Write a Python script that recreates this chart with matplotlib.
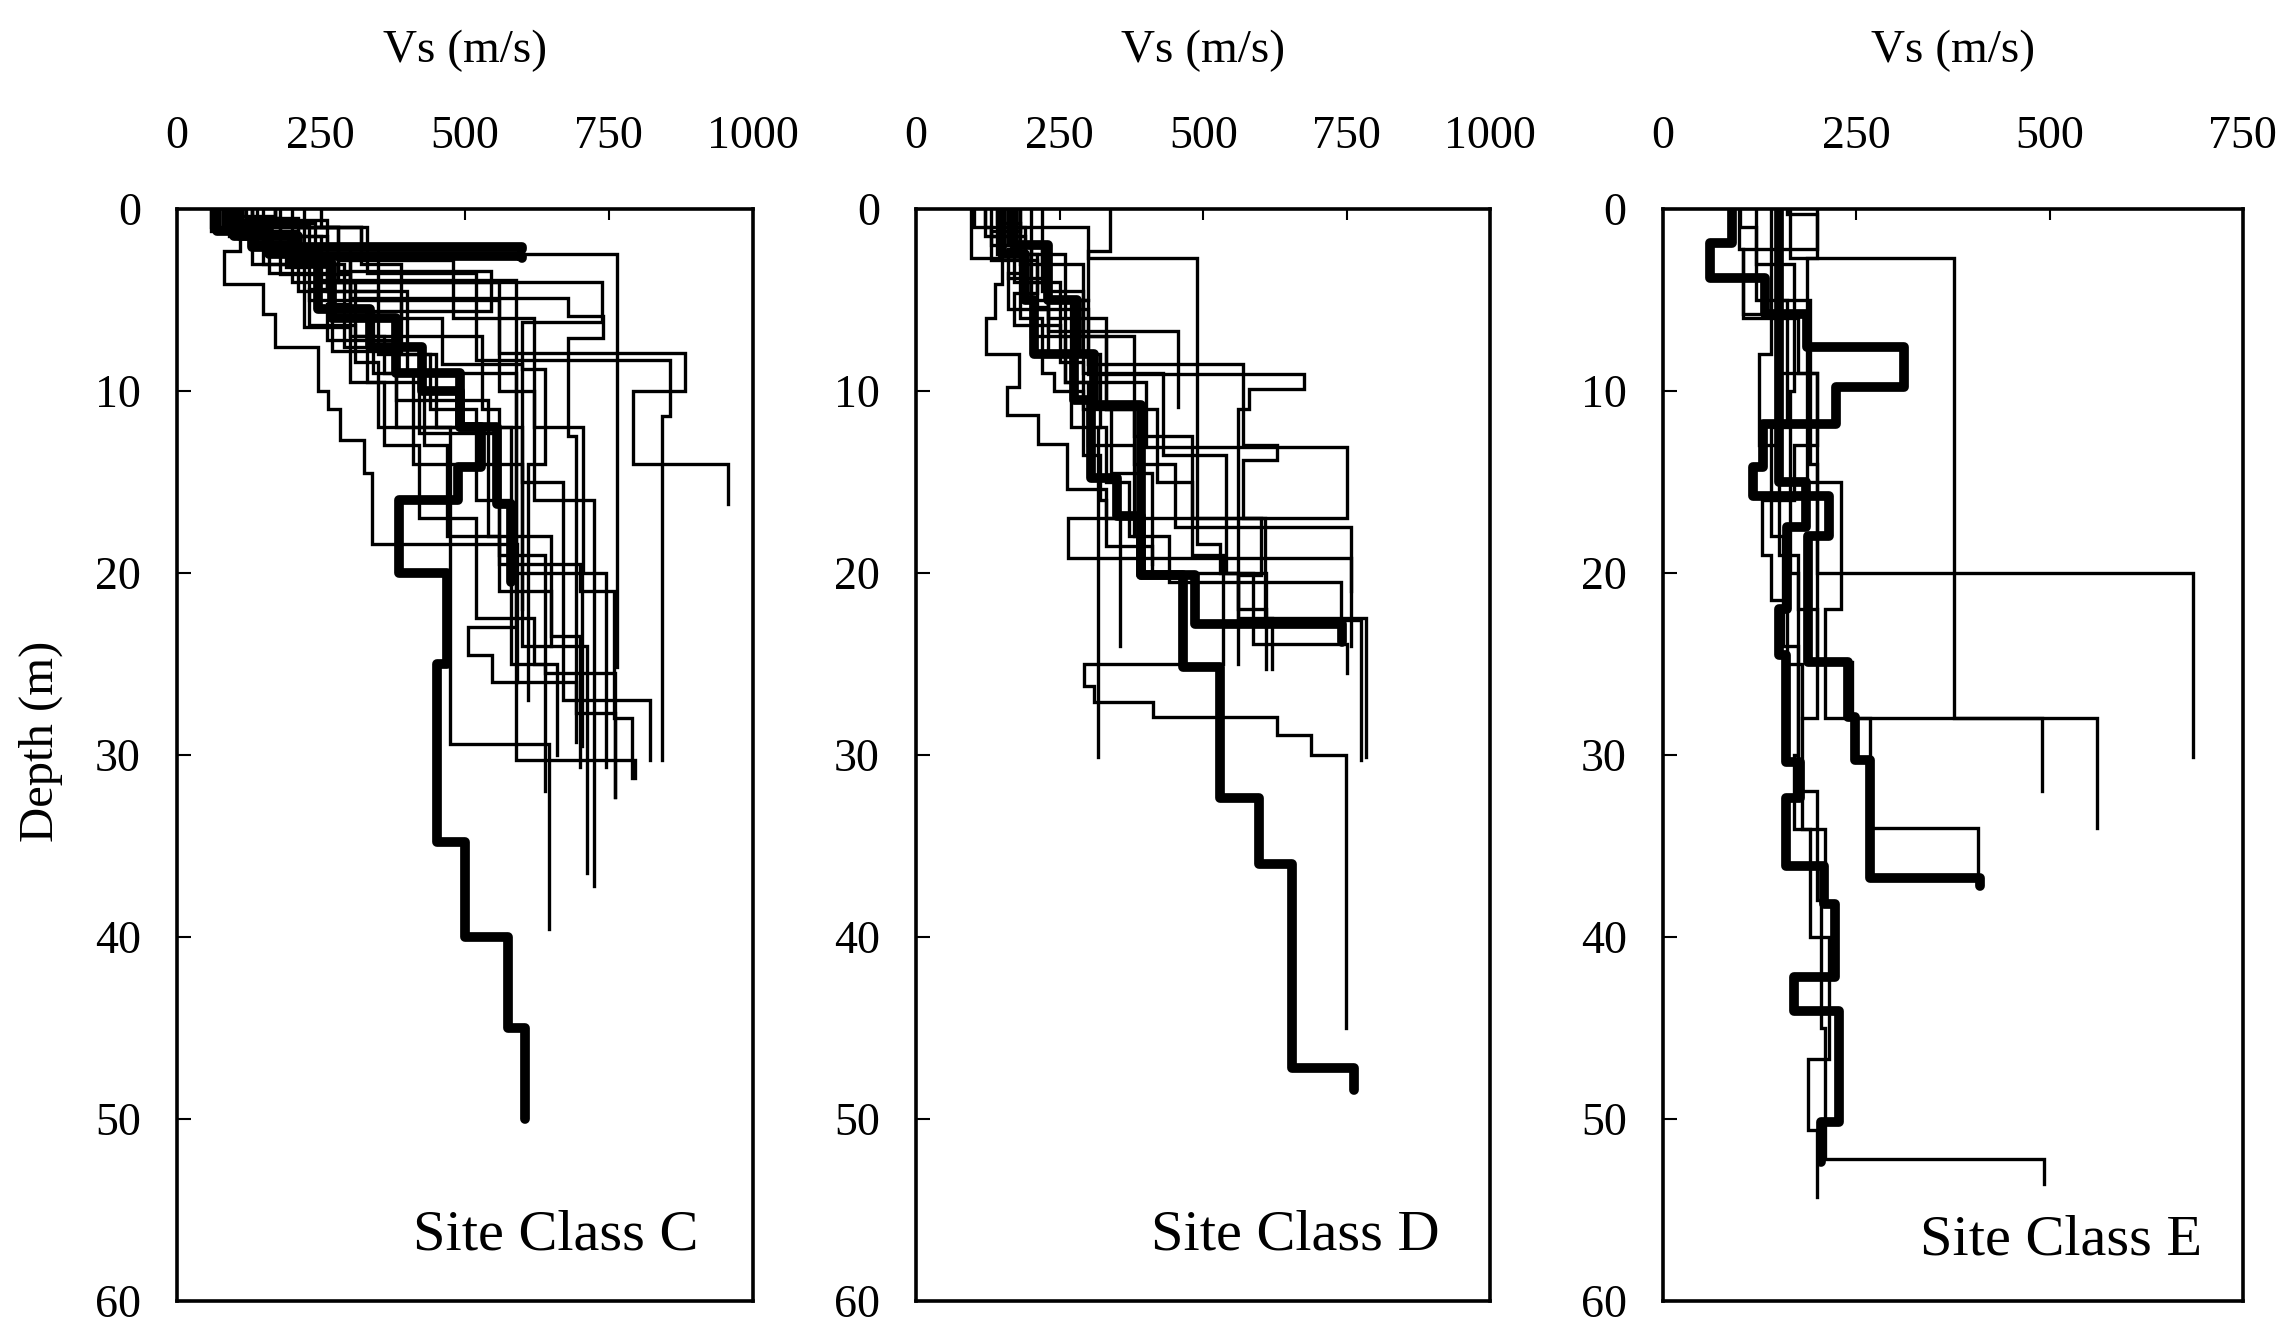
import numpy as np
import matplotlib
matplotlib.use("Agg")
import matplotlib.pyplot as plt

plt.rcParams["font.family"] = ["Liberation Serif", "DejaVu Serif"]

# Each profile: bottom depth of every layer (m) and the layer Vs (m/s)
C_THIN_DEPTH = [
    [1.0, 2.5, 25.2],
    [1.5, 4.0, 7.9, 10.0, 14.0, 16.2],
    [1.0, 3.5, 8.3, 11.4, 30.3],
    [2.0, 4.9, 5.9, 7.1, 12.5, 29.3],
    [0.8, 3.9, 30.3, 31.3],
    [1.2, 3.5, 7.8, 12.0, 29.4, 39.6],
    [1.5, 4.5, 9.0, 23.0, 24.5, 26.0, 27.7, 32.3],
    [2.0, 5.0, 10.0, 16.0, 37.2],
    [1.0, 2.8, 6.0, 12.0, 20.0, 30.7],
    [1.2, 2.3, 4.1, 5.8, 7.6, 10.0, 11.0, 12.7, 14.5, 18.4, 26.0],
    [0.5, 1.5, 3.0, 7.6, 9.5, 12.3, 19.0, 25.5, 32.3],
    [1.0, 3.0, 6.0, 8.5, 15.0, 27.0, 30.3],
    [1.5, 4.0, 7.0, 11.0, 19.5, 21.0, 28.0, 31.3],
    [0.6, 2.0, 4.5, 8.0, 11.0, 16.0, 25.0, 32.0],
    [1.0, 3.0, 6.5, 9.5, 13.0, 17.0, 22.5, 25.0, 30.0],
    [1.0, 3.4, 5.6, 9.0, 13.0, 18.0, 21.0, 23.5, 30.7],
    [0.7, 2.0, 5.0, 8.0, 12.0, 24.0, 36.5],
    [0.5, 2.2, 4.0, 6.2, 8.8, 14.0, 20.0, 29.5],
    [0.6, 1.8, 3.2, 5.0, 7.0, 9.0, 14.0, 22.0],
    [0.4, 1.2, 2.6, 4.4, 6.4, 8.4, 12.0, 20.0, 27.0],
    [0.9, 2.0, 3.6, 5.2, 7.2, 10.5, 18.0, 24.0],
]
C_THIN_VS = [
    [150, 320, 765],
    [110, 250, 560, 883, 792, 957],
    [200, 330, 520, 856, 843],
    [180, 300, 680, 741, 680, 694],
    [90, 240, 589, 795],
    [60, 160, 270, 380, 474, 647],
    [130, 260, 400, 589, 505, 548, 694, 761],
    [220, 350, 560, 620, 724],
    [170, 280, 480, 620, 705, 745],
    [80, 110, 82, 150, 170, 245, 262, 283, 325, 339, 590],
    [120, 180, 130, 290, 330, 420, 560, 640, 761],
    [250, 320, 390, 460, 600, 670, 822],
    [90, 200, 310, 530, 560, 700, 760, 790],
    [140, 260, 210, 350, 440, 520, 580, 640],
    [60, 150, 220, 300, 360, 420, 520, 620, 660],
    [170, 280, 545, 340, 430, 470, 560, 650, 700],
    [100, 200, 300, 390, 450, 600, 713],
    [130, 210, 280, 738, 600, 640, 610, 703],
    [100, 140, 190, 230, 300, 360, 410, 600],
    [170, 110, 210, 260, 230, 310, 350, 580, 610],
    [130, 230, 180, 300, 260, 380, 540, 650],
]
C_THICK_DEPTH = [
    [1.0, 2.5, 5.5, 7.6, 10.0, 12.0, 14.2, 16.0, 20.0, 25.0, 34.8, 40.0, 45.0, 50.0],
    [1.5, 3.0, 6.0, 9.0, 12.0, 16.2, 20.5],
    [1.2, 2.1, 2.2],
    [1.5, 2.6, 2.7],
]
C_THICK_VS = [
    [90, 160, 245, 335, 425, 491, 528, 488, 386, 470, 452, 500, 575, 605],
    [110, 200, 270, 380, 491, 556, 580],
    [70, 130, 600],
    [100, 210, 600],
]

D_THIN_DEPTH = [
    [1.0, 2.7, 18.4, 20.0, 25.3],
    [2.3, 5.0, 8.0, 12.0, 30.1],
    [1.5, 4.0, 6.7, 10.9],
    [2.0, 5.0, 9.1, 9.9, 11.0, 22.5, 25.3],
    [3.0, 6.0, 9.5, 13.1, 17.0, 19.2, 21.0],
    [2.5, 6.0, 11.0, 14.0, 17.5, 24.0],
    [3.0, 7.0, 12.5, 17.0, 22.5, 30.1],
    [2.0, 4.5, 9.0, 13.5, 20.0, 23.9, 25.5],
    [1.5, 4.0, 7.0, 11.0, 15.0, 19.0, 25.0, 26.2, 27.1, 27.9, 28.9, 30.0, 45.0],
    [2.5, 5.5, 8.5, 13.0, 13.8, 17.0, 20.1, 25.0],
    [2.7, 4.1, 6.0, 8.0, 9.8, 11.3, 12.9, 15.4, 17.0, 24.0],
    [1.0, 2.0, 6.0, 9.0, 10.0, 13.5, 16.0, 18.5, 20.0, 22.0, 23.0],
    [1.0, 3.5, 5.5, 8.0, 12.0, 15.0, 18.0, 20.5, 22.6, 30.3],
    [0.8, 2.2, 3.8, 5.4, 7.0, 9.5, 13.0, 18.0],
    [1.2, 2.8, 4.6, 6.4, 8.4, 11.0, 14.5, 19.5],
]
D_THIN_VS = [
    [160, 300, 490, 530, 610],
    [337, 300, 270, 320, 317],
    [130, 170, 230, 456],
    [160, 200, 300, 675, 579, 560, 620],
    [180, 230, 260, 400, 750, 265, 757],
    [200, 260, 330, 380, 450, 757],
    [220, 290, 380, 480, 608, 783],
    [150, 220, 290, 430, 540, 587, 750],
    [120, 190, 250, 330, 420, 480, 535, 292, 310, 412, 629, 688, 748],
    [140, 210, 300, 570, 629, 570, 600, 560],
    [96, 150, 137, 121, 179, 158, 212, 262, 330, 355],
    [100, 130, 180, 220, 240, 290, 320, 330, 410, 560, 610],
    [120, 190, 160, 230, 270, 330, 370, 440, 740, 775],
    [140, 180, 160, 230, 200, 260, 300, 380],
    [180, 130, 210, 170, 250, 290, 340, 410],
]
D_THICK_DEPTH = [
    [2.5, 5.0, 8.0, 10.5, 14.8, 16.9, 20.1, 25.2, 32.4, 36.0, 47.2, 48.4],
    [2.0, 5.0, 8.0, 10.8, 20.1, 22.8, 23.8],
]
D_THICK_VS = [
    [150, 190, 205, 275, 305, 350, 392, 465, 530, 598, 655, 762],
    [170, 230, 280, 310, 392, 485, 742],
]

E_THIN_DEPTH = [
    [2.7, 28.0, 34.0],
    [2.2, 5.8, 9.0, 20.0, 30.1],
    [2.7, 15.0, 22.0, 28.0, 32.0],
    [3.0, 10.0, 20.0, 30.0, 34.1, 40.0, 46.7, 50.6, 54.3],
    [5.0, 12.0, 18.0, 24.0, 32.0, 38.0, 45.0, 52.2, 53.6],
    [5.0, 14.0, 24.9, 28.0, 34.0, 36.8],
    [0.3, 2.2, 6.0, 9.0, 13.0, 16.0, 19.0, 22.0, 28.0, 34.1, 36.0],
    [1.0, 3.0, 8.0, 13.0, 16.0, 19.0, 21.5, 25.0, 28.0],
]
E_THIN_VS = [
    [165, 376, 562],
    [98, 104, 150, 199, 686],
    [199, 187, 230, 210, 490],
    [140, 170, 165, 175, 170, 190, 215, 188, 200],
    [120, 160, 140, 155, 175, 200, 205, 210, 493],
    [150, 190, 200, 245, 268, 407],
    [160, 199, 104, 175, 200, 170, 150, 175, 200, 180, 210],
    [100, 120, 140, 125, 150, 128, 140, 160, 180],
]
E_THICK_DEPTH = [
    [15.0, 17.5, 22.0, 24.5, 30.4, 32.4, 36.1, 38.2, 42.2, 44.1, 50.2, 52.4],
    [1.9, 3.8, 5.8, 7.6, 9.8, 11.8, 14.2, 15.8, 18.0, 24.9, 27.9, 30.3, 36.8, 37.2],
]
E_THICK_VS = [
    [150, 185, 160, 150, 159, 178, 159, 208, 222, 170, 228, 205],
    [89, 61, 132, 187, 312, 224, 129, 116, 215, 188, 239, 248, 268, 410],
]

PANELS = [
    ("Site Class C", [0, 250, 500, 750, 1000], C_THIN_DEPTH, C_THIN_VS, C_THICK_DEPTH, C_THICK_VS),
    ("Site Class D", [0, 250, 500, 750, 1000], D_THIN_DEPTH, D_THIN_VS, D_THICK_DEPTH, D_THICK_VS),
    ("Site Class E", [0, 250, 500, 750], E_THIN_DEPTH, E_THIN_VS, E_THICK_DEPTH, E_THICK_VS),
]
DEPTH_TICKS = [0, 10, 20, 30, 40, 50, 60]


def steps(depths, vs):
    z = np.repeat([0] + list(depths), 2)[1:-1]
    v = np.repeat(vs, 2)
    return v, z


fig = plt.figure(figsize=(22.91, 13.24), dpi=100)
lefts = [0.0772, 0.3999, 0.7258]
widths = [0.2513, 0.2506, 0.2532]
text_x = [0.905, 0.911, 0.93]
text_y = [0.06, 0.06, 0.055]

for i, (name, xt, td, tv, kd, kv) in enumerate(PANELS):
    ax = fig.add_axes([lefts[i], 0.0177, widths[i], 0.8245])
    for d, v in zip(td, tv):
        x, y = steps(d, v)
        ax.plot(x, y, color="black", lw=2.4, solid_joinstyle="miter")
    for d, v in zip(kd, kv):
        x, y = steps(d, v)
        ax.plot(x, y, color="black", lw=7.0, solid_capstyle="round",
                solid_joinstyle="round")

    ax.set_xlim(xt[0], xt[-1])
    ax.set_ylim(60, 0)
    ax.set_xticks(xt)
    ax.set_yticks(DEPTH_TICKS)
    ax.xaxis.tick_top()
    ax.xaxis.set_label_position("top")
    ax.set_xlabel("Vs (m/s)", fontsize=34, labelpad=38)
    ax.tick_params(axis="x", direction="in", length=8, width=1.5,
                   labelsize=33, pad=37)
    ax.tick_params(axis="y", direction="in", length=10, width=1.5,
                   labelsize=33, pad=26)
    for s in ax.spines.values():
        s.set_linewidth(2.6)
    ax.text(text_x[i], text_y[i], name, transform=ax.transAxes, ha="right",
            va="center", fontsize=42)

fig.text(0.018, 0.44, "Depth (m)", rotation=90, ha="center", va="center",
         fontsize=35)

fig.savefig("out.png", dpi=100)
